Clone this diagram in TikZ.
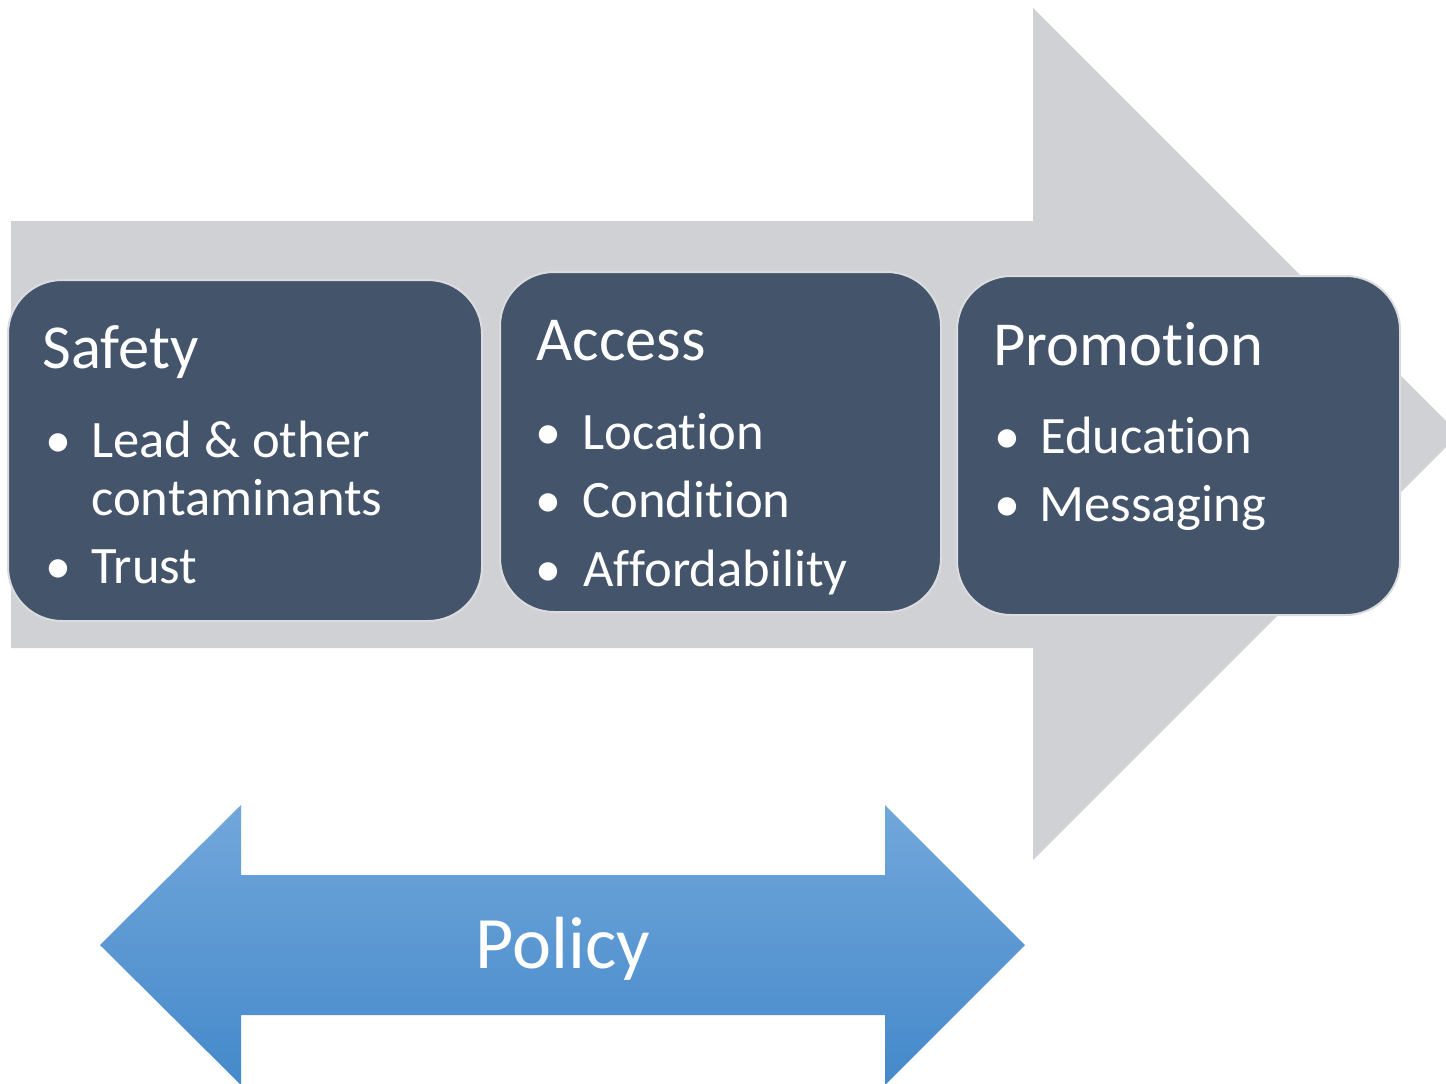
\documentclass[tikz,border=0pt]{standalone}
\usepackage{fontspec}
\setmainfont{Carlito}[Ligatures={NoCommon}]
\definecolor{grayarrow}{RGB}{208,209,213}
\definecolor{boxfill}{RGB}{68,84,106}
\definecolor{boxline}{RGB}{218,220,224}
\definecolor{poltop}{RGB}{114,167,219}
\definecolor{polbot}{RGB}{68,137,202}
\begin{document}
\begin{tikzpicture}[x=0.5pt,y=-0.5pt,
  box/.style={fill=boxfill,draw=boxline,line width=1pt,rounded corners=27pt},
  title/.style={anchor=base west,inner sep=0pt,text=white,font=\fontsize{31.3}{36}\selectfont},
  item/.style={anchor=base west,inner sep=0pt,text=white,font=\fontsize{26.3}{30}\selectfont},
  bul/.style={anchor=base,inner sep=0pt,text=white,font=\fontsize{26}{30}\selectfont},
  poltext/.style={anchor=base,inner sep=0pt,text=white,font=\fontsize{37}{42}\selectfont}]
\clip (0,0) rectangle (1446,1083);
\fill[white] (0,0) rectangle (1446,1083);
% big gray arrow
\fill[grayarrow] (11,221) -- (1033,221) -- (1033,8) -- (1459,434) -- (1033,860)
  -- (1033,648) -- (11,648) -- cycle;
% boxes
\draw[box] (8,280) rectangle (482,621);
\draw[box] (500,272) rectangle (941,612);
\draw[box] (957,276) rectangle (1400,615);
% Safety
\node[title] (t1) at (42,368) {Safety};
\node[bul] (b11) at (58,457) {•};
\node[item] (i11) at (91,457) {Lead \& other};
\node[item] (i12) at (91,515) {contaminants};
\node[bul] (b12) at (58,583) {•};
\node[item] (i13) at (91,583) {Trust};
% Access
\node[title] (t2) at (536,360) {Access};
\node[bul] (b21) at (548,449) {•};
\node[item] (i21) at (582,449) {Location};
\node[bul] (b22) at (548,517) {•};
\node[item] (i22) at (582,517) {Condition};
\node[bul] (b23) at (548,586) {•};
\node[item] (i23) at (583,586) {Affordability};
% Promotion
\node[title] (t3) at (993,365) {Promotion};
\node[bul] (b31) at (1007,453) {•};
\node[item] (i31) at (1040,453) {Education};
\node[bul] (b32) at (1007,521) {•};
\node[item] (i32) at (1039,521) {Messaging};
% Policy double arrow
\shade[top color=poltop,bottom color=polbot]
  (100,945) -- (241,805) -- (241,875) -- (885,875) -- (885,805) -- (1025,945)
  -- (885,1085) -- (885,1015) -- (241,1015) -- (241,1085) -- cycle;
\node[poltext] (pol) at (563,968) {Policy};
\end{tikzpicture}
\end{document}
